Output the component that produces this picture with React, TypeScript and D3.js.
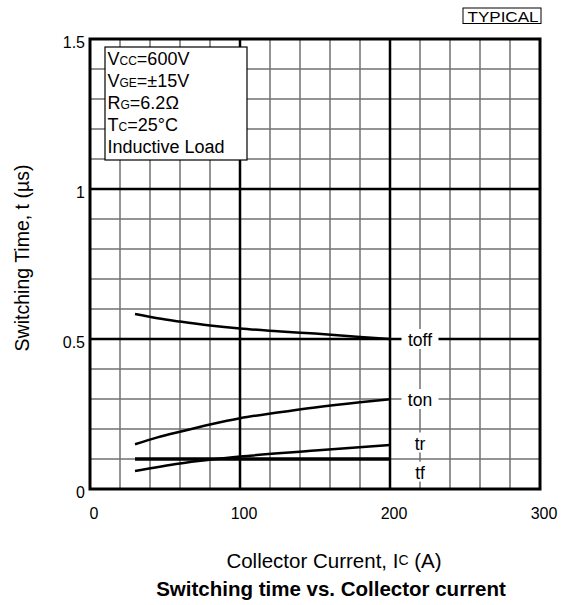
import React from "react";
import * as d3 from "d3";

const xTicks = [0, 100, 200, 300];
const yTicks = [0, 0.5, 1, 1.5];
const yTickLabels = ["0", "0.5", "1", "1.5"];

const toffX = [30, 45, 60, 80, 100, 125, 150, 180, 200];
const toffY = [0.583, 0.569, 0.558, 0.545, 0.535, 0.526, 0.518, 0.507, 0.5];
const tonX = [30, 45, 60, 80, 100, 125, 150, 180, 200];
const tonY = [0.149, 0.172, 0.191, 0.215, 0.236, 0.255, 0.272, 0.289, 0.299];
const trX = [30, 60, 100, 150, 200];
const trY = [0.06, 0.085, 0.108, 0.128, 0.147];
const tfX = [30, 200];
const tfY = [0.1, 0.1];

const curveLabels = ["toff", "ton", "tr", "tf"];
const curveLabelY = [0.5, 0.3, 0.155, 0.058];

const legendLines = [
  ["V", "CC", "=600V"],
  ["V", "GE", "=±15V"],
  ["R", "G", "=6.2Ω"],
  ["T", "C", "=25°C"],
  ["Inductive Load", "", ""],
];

const W = 562;
const H = 605;
const m = { left: 90, right: 540, top: 39, bottom: 489 };
const font = "'Liberation Sans', Arial, Helvetica, sans-serif";

export default function App() {
  const x = d3.scaleLinear().domain([0, 300]).range([m.left, m.right]);
  const y = d3.scaleLinear().domain([0, 1.5]).range([m.bottom, m.top]);
  const line = d3
    .line<[number, number]>()
    .x((d) => x(d[0]))
    .y((d) => y(d[1]))
    .curve(d3.curveMonotoneX);
  const zip = (a: number[], b: number[]) => a.map((v, i) => [v, b[i]] as [number, number]);

  const xMinor = d3.range(20, 300, 20).filter((v) => v % 100 !== 0);
  const yMinor = d3.range(1, 15).map((v) => v / 10).filter((v) => Math.abs(v - 0.5) > 1e-9 && Math.abs(v - 1) > 1e-9);
  const xMajor = [100, 200];
  const yMajor = [0.5, 1];
  const labelX = x(220);

  return (
    <svg width={W} height={H} style={{ display: "block", position: "absolute", left: 0, top: 0 }} fontFamily={font}>
      <rect x={0} y={0} width={W} height={H} fill="#fff" />
      {xMinor.map((v) => (
        <line key={"xm" + v} x1={x(v)} x2={x(v)} y1={m.top} y2={m.bottom} stroke="#707070" strokeWidth={1.5} />
      ))}
      {yMinor.map((v) => (
        <line key={"ym" + v} x1={m.left} x2={m.right} y1={y(v)} y2={y(v)} stroke="#707070" strokeWidth={1.5} />
      ))}
      {xMajor.map((v) => (
        <line key={"xM" + v} x1={x(v)} x2={x(v)} y1={m.top} y2={m.bottom} stroke="#000" strokeWidth={2.5} />
      ))}
      {yMajor.map((v) => (
        <line key={"yM" + v} x1={m.left} x2={m.right} y1={y(v)} y2={y(v)} stroke="#000" strokeWidth={2.5} />
      ))}
      <rect x={m.left} y={m.top} width={m.right - m.left} height={m.bottom - m.top} fill="none" stroke="#000" strokeWidth={3} />

      <path d={line(zip(toffX, toffY)) || ""} fill="none" stroke="#000" strokeWidth={2.5} />
      <path d={line(zip(tonX, tonY)) || ""} fill="none" stroke="#000" strokeWidth={2.5} />
      <path d={line(zip(trX, trY)) || ""} fill="none" stroke="#000" strokeWidth={2.5} />
      <path d={line(zip(tfX, tfY)) || ""} fill="none" stroke="#000" strokeWidth={3.5} />

      {curveLabels.map((t, i) => {
        const cy = y(curveLabelY[i]);
        const wide = i < 2;
        const w = wide ? 37 : 20;
        return (
          <g key={t}>
            <rect x={labelX - w / 2} y={cy - 10} width={w} height={20} fill="#fff" />
            <text x={labelX} y={cy + 1} textAnchor="middle" dominantBaseline="central" fontSize={17.5}>
              {t}
            </text>
          </g>
        );
      })}

      <rect x={105} y={47} width={142} height={113} fill="#fff" stroke="#000" strokeWidth={1.2} />
      {legendLines.map((l, i) => (
        <text key={i} x={107.5} y={65 + i * 22} fontSize={18}>
          {l[0]}
          {l[1] && <tspan fontSize={12}>{l[1]}</tspan>}
          {l[2]}
        </text>
      ))}

      <rect x={463} y={8} width={78} height={15.5} fill="#fff" stroke="#000" strokeWidth={1} />
      <text x={503} y={16.5} textAnchor="middle" dominantBaseline="central" fontSize={15.5} textLength={71} lengthAdjust="spacingAndGlyphs">
        TYPICAL
      </text>

      {yTicks.map((v, i) => (
        <text key={"yt" + v} x={85} y={y(v) + 3} textAnchor="end" dominantBaseline="central" fontSize={16}>
          {yTickLabels[i]}
        </text>
      ))}
      {xTicks.map((v) => (
        <text key={"xt" + v} x={x(v) + 4} y={513} textAnchor="middle" dominantBaseline="central" fontSize={16}>
          {v}
        </text>
      ))}

      <text
        transform={`translate(21.5,258) rotate(-90)`}
        textAnchor="middle"
        dominantBaseline="central"
        fontSize={19.5}
      >
        Switching Time, t (µs)
      </text>
      <text x={334} y={560} textAnchor="middle" dominantBaseline="central" fontSize={20.5}>
        Collector Current, I<tspan fontSize={14}>C</tspan> (A)
      </text>
      <text x={331} y={588} textAnchor="middle" dominantBaseline="central" fontSize={20.5} fontWeight="bold">
        Switching time vs. Collector current
      </text>
    </svg>
  );
}
